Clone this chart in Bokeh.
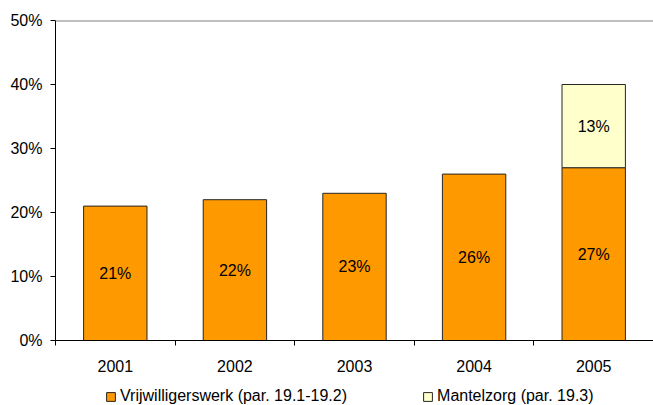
from bokeh.plotting import figure
from bokeh.layouts import column
from bokeh.models import Range1d, FixedTicker, PrintfTickFormatter, Span, Legend, LegendItem, ColumnDataSource
from bokeh.core.properties import value
from bokeh.embed import file_html
from bokeh.resources import INLINE

years = ["2001", "2002", "2003", "2004", "2005"]
vrijwilligerswerk = [21, 22, 23, 26, 27]
mantelzorg = [None, None, None, None, 13]
series_names = ["Vrijwilligerswerk (par. 19.1-19.2)", "Mantelzorg (par. 19.3)"]
series_colors = ["#FF9900", "#FFFFCC"]
y_ticks = [0, 10, 20, 30, 40, 50]

FONT = "Liberation Sans"
EDGE = "#262626"
xs = list(range(1, len(years) + 1))

p = figure(width=653, height=375, output_backend="svg", toolbar_location=None,
           x_range=Range1d(0.5, len(years) + 0.5), y_range=Range1d(0, 50),
           min_border_left=55, min_border_top=20, min_border_bottom=35, min_border_right=0)
p.outline_line_color = None
p.xgrid.visible = False
p.ygrid.visible = False
p.background_fill_color = "white"
p.border_fill_color = "white"

src1 = ColumnDataSource(dict(x=xs, top=vrijwilligerswerk, bottom=[0]*len(xs),
                             ymid=[v/2 for v in vrijwilligerswerk],
                             lab=[f"{v}%" for v in vrijwilligerswerk]))
p.vbar(x="x", top="top", bottom="bottom", width=0.53, source=src1,
       fill_color=series_colors[0], line_color=EDGE, line_width=1)

mx = [x for x, m in zip(xs, mantelzorg) if m is not None]
mb = [v for v, m in zip(vrijwilligerswerk, mantelzorg) if m is not None]
mv = [m for m in mantelzorg if m is not None]
src2 = ColumnDataSource(dict(x=mx, bottom=mb, top=[b+m for b, m in zip(mb, mv)],
                             ymid=[b+m/2 for b, m in zip(mb, mv)],
                             lab=[f"{m}%" for m in mv]))
p.vbar(x="x", top="top", bottom="bottom", width=0.53, source=src2,
       fill_color=series_colors[1], line_color=EDGE, line_width=1)

for s in (src1, src2):
    p.text(x="x", y="ymid", text="lab", source=s, text_align="center", text_baseline="middle",
           text_font=value(FONT), text_font_size="16px", text_color="black")

p.add_layout(Span(location=50, dimension="width", line_color="#808080", line_width=2))

# axes
p.yaxis.ticker = FixedTicker(ticks=y_ticks)
p.yaxis.formatter = PrintfTickFormatter(format="%d%%")
p.yaxis.major_tick_out = 5
p.yaxis.major_tick_in = 0
p.yaxis.minor_tick_out = 0
p.yaxis.major_label_standoff = 8
p.yaxis.axis_line_color = "black"
p.yaxis.major_tick_line_color = "black"

p.xaxis.ticker = FixedTicker(ticks=xs, minor_ticks=[x - 0.5 for x in xs] + [xs[-1] + 0.5])
p.xaxis.major_label_overrides = {x: y for x, y in zip(xs, years)}
p.xaxis.major_tick_out = 0
p.xaxis.major_tick_in = 0
p.xaxis.minor_tick_out = 5
p.xaxis.minor_tick_in = 0
p.xaxis.minor_tick_line_color = "black"
p.xaxis.major_label_standoff = 14
p.xaxis.axis_line_color = "black"

for ax in (p.xaxis, p.yaxis):
    ax.major_label_text_font = FONT
    ax.major_label_text_font_size = "16px"
    ax.major_label_text_color = "black"

# legend strip below the chart (its renderers share the data but are hidden)
pl = figure(width=653, height=30, output_backend="svg", toolbar_location=None,
            x_axis_type=None, y_axis_type=None,
            min_border_left=0, min_border_right=0, min_border_top=0, min_border_bottom=0)
pl.outline_line_color = None
pl.xgrid.visible = False
pl.ygrid.visible = False
items = []
for name, col, s in zip(series_names, series_colors, (src1, src2)):
    r = pl.vbar(x="x", top="top", bottom="bottom", width=0.53, source=s,
                fill_color=col, line_color=EDGE, line_width=1)
    r.visible = False
    items.append(LegendItem(label=name, renderers=[r]))
legend = Legend(items=items, orientation="horizontal", location=(50, 0),
                padding=0, margin=0, spacing=75, glyph_width=11, glyph_height=11,
                label_standoff=4, border_line_color=None, background_fill_alpha=0,
                label_text_font=FONT, label_text_font_size="16px", label_text_color="black")
pl.add_layout(legend, "center")

layout = column(p, pl, spacing=0)
open("out.html", "w").write(file_html(layout, INLINE))
